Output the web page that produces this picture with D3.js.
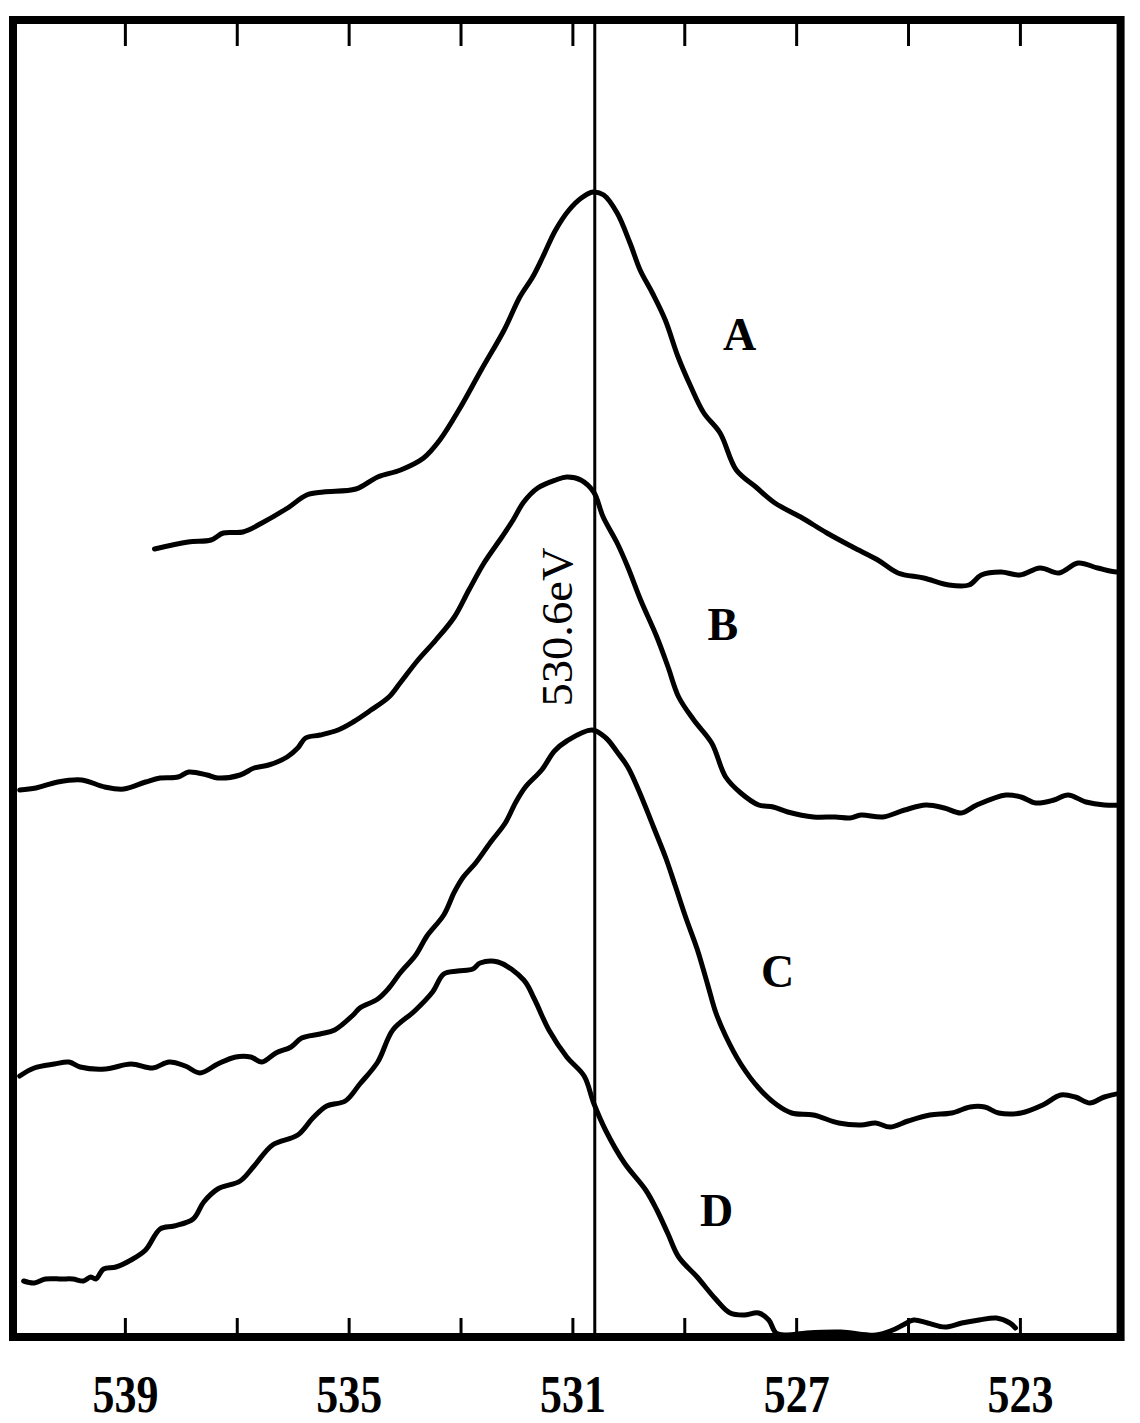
<!DOCTYPE html>
<html>
<head>
<meta charset="utf-8">
<script src="https://cdn.jsdelivr.net/npm/d3@7"></script>
<style>
  body { margin: 0; background: #fff; }
  svg { display: block; }
</style>
</head>
<body>
<div id="chart"></div>
<script>
var w = 1140;
var h = 1423;

// binding energy (eV) and intensity (a.u.)
var energyA = [538.47, 537.87, 537.46, 537.24, 536.89, 536.55, 536.09, 535.75, 535.45, 534.87, 534.48, 534.07, 533.66, 533.37, 533.03, 532.63, 532.22, 531.94, 531.71, 531.53, 531.30, 531.06, 530.84, 530.63, 530.44, 530.20, 529.97, 529.79, 529.57, 529.34, 529.11, 528.88, 528.65, 528.36, 528.07, 527.72, 527.38, 526.92, 526.45, 525.99, 525.54, 525.18, 524.72, 524.27, 523.91, 523.69, 523.34, 523.00, 522.64, 522.30, 521.96, 521.61, 521.27, 521.0];
var countsA = [788, 795, 797, 804, 805, 814, 829, 842, 845, 848, 860, 867, 879, 897, 927, 967, 1007, 1040, 1060, 1080, 1107, 1127, 1139, 1145, 1142, 1124, 1094, 1067, 1044, 1017, 980, 950, 924, 904, 867, 850, 834, 820, 804, 790, 777, 764, 759, 752, 752, 762, 765, 762, 769, 764, 774, 769, 765, 768];

var energyB = [540.88, 540.59, 540.20, 539.77, 539.36, 539.02, 538.63, 538.37, 538.05, 537.86, 537.53, 537.34, 536.94, 536.69, 536.43, 536.10, 535.91, 535.77, 535.51, 535.19, 534.92, 534.60, 534.28, 534.08, 533.76, 533.44, 533.11, 532.85, 532.58, 532.26, 532.06, 531.87, 531.62, 531.30, 531.10, 530.85, 530.62, 530.45, 530.20, 530.01, 529.78, 529.49, 529.29, 529.10, 528.83, 528.51, 528.26, 527.99, 527.67, 527.41, 527.15, 526.69, 526.30, 526.04, 525.84, 525.45, 525.06, 524.68, 524.35, 524.05, 523.77, 523.25, 522.98, 522.72, 522.39, 522.14, 521.82, 521.49, 521.07];
var countsB = [547, 549, 555, 557, 550, 548, 555, 559, 560, 565, 562, 559, 562, 569, 572, 580, 589, 599, 602, 607, 615, 627, 640, 654, 677, 697, 720, 747, 774, 800, 817, 835, 849, 857, 860, 857, 845, 820, 794, 770, 737, 700, 670, 640, 617, 594, 560, 544, 532, 530, 525, 520, 520, 519, 522, 520, 527, 532, 529, 524, 532, 542, 540, 534, 537, 542, 535, 532, 532];

var energyC = [540.88, 540.62, 540.26, 540.00, 539.80, 539.35, 538.89, 538.50, 538.21, 537.92, 537.66, 537.34, 537.02, 536.75, 536.55, 536.30, 536.03, 535.84, 535.51, 535.25, 534.92, 534.80, 534.48, 534.28, 534.08, 533.80, 533.60, 533.30, 533.11, 532.95, 532.73, 532.46, 532.20, 532.01, 531.84, 531.55, 531.32, 531.10, 530.65, 530.40, 530.20, 530.01, 529.81, 529.55, 529.33, 529.16, 528.97, 528.77, 528.58, 528.44, 528.26, 527.99, 527.67, 527.34, 527.08, 526.69, 526.24, 525.84, 525.58, 525.32, 525.00, 524.61, 524.22, 523.89, 523.63, 523.38, 522.98, 522.59, 522.27, 522.01, 521.75, 521.49, 521.00];
var countsC = [261, 269, 273, 275, 270, 268, 273, 269, 275, 271, 264, 273, 280, 280, 275, 284, 290, 299, 303, 307, 322, 329, 338, 349, 364, 382, 401, 422, 445, 460, 474, 495, 514, 535, 550, 567, 586, 596, 607, 599, 585, 570, 546, 510, 479, 451, 419, 388, 352, 325, 301, 273, 249, 232, 224, 222, 214, 212, 214, 210, 216, 222, 224, 230, 230, 224, 224, 232, 242, 240, 234, 240, 246];

var energyD = [540.81, 540.62, 540.42, 540.13, 539.93, 539.74, 539.61, 539.52, 539.38, 539.16, 538.89, 538.63, 538.37, 538.12, 537.78, 537.59, 537.34, 536.94, 536.69, 536.36, 535.91, 535.64, 535.39, 535.06, 534.80, 534.48, 534.21, 533.82, 533.50, 533.30, 533.05, 532.78, 532.65, 532.33, 531.87, 531.68, 531.42, 531.10, 530.79, 530.62, 530.40, 530.07, 529.69, 529.49, 529.29, 529.10, 528.77, 528.44, 528.18, 527.93, 527.67, 527.49, 527.36, 527.18, 526.81, 526.20, 525.57, 525.27, 525.09, 524.90, 524.65, 524.34, 524.04, 523.73, 523.42, 523.18, 523.08];
var countsD = [56, 54, 58, 58, 58, 56, 60, 58, 68, 70, 77, 87, 108, 111, 118, 135, 148, 156, 171, 192, 202, 219, 231, 236, 253, 275, 307, 326, 345, 363, 366, 368, 374, 375, 357, 338, 307, 280, 261, 234, 206, 174, 147, 127, 103, 80, 60, 38, 24, 22, 24, 17, 4, 2, 4, 5, 2, 7, 12, 17, 14, 10, 14, 17, 19, 14, 9];

var seriesNames = ['A', 'B', 'C', 'D'];
var labelEnergy = [528.01, 528.31, 527.33, 528.42];
var labelCounts = [987, 697, 350, 111];

var tickValues = [539, 537, 535, 533, 531, 529, 527, 525, 523];
var tickLabels = ['539', '', '535', '', '531', '', '527', '', '523'];
var markerEnergy = 530.6;
var markerText = '530.6eV';

var series = [
    {name: 'A', e: energyA, c: countsA},
    {name: 'B', e: energyB, c: countsB},
    {name: 'C', e: energyC, c: countsC},
    {name: 'D', e: energyD, c: countsD}
];

var x = d3.scaleLinear().domain([541, 521.2]).range([13, 1120.6]);
var y = d3.scaleLinear().domain([0, 1317]).range([1337, 20]);

var svg = d3.select('#chart')
    .append('svg')
    .attr('width', w)
    .attr('height', h)
    .style('background', '#fff');

svg.append('clipPath')
    .attr('id', 'plot-clip')
    .append('rect')
    .attr('x', x(541))
    .attr('y', y(1317))
    .attr('width', x(521.2) - x(541))
    .attr('height', y(0) - y(1317));

var line = d3.line()
    .x(function(d) { return x(d[0]); })
    .y(function(d) { return y(d[1]); })
    .curve(d3.curveCatmullRom);

svg.append('g')
    .attr('clip-path', 'url(#plot-clip)')
    .selectAll('path')
    .data(series)
    .enter()
    .append('path')
    .attr('d', function(s) {
        return line(s.e.map(function(v, i) { return [v, s.c[i]]; }));
    })
    .attr('fill', 'none')
    .attr('stroke', '#000')
    .attr('stroke-width', 5)
    .attr('stroke-linejoin', 'round')
    .attr('stroke-linecap', 'round');

// reference line at the peak energy
svg.append('line')
    .attr('x1', x(markerEnergy))
    .attr('x2', x(markerEnergy))
    .attr('y1', y(1317))
    .attr('y2', y(0))
    .attr('stroke', '#000')
    .attr('stroke-width', 3);

svg.append('text')
    .attr('transform', 'translate(' + (x(markerEnergy) - 23) + ',' + 627 + ') rotate(-90)')
    .attr('text-anchor', 'middle')
    .attr('font-family', 'Liberation Serif, DejaVu Serif, serif')
    .attr('font-size', 44)
    .attr('textLength', 159)
    .attr('lengthAdjust', 'spacingAndGlyphs')
    .text(markerText);

svg.selectAll('text.curve-label')
    .data(seriesNames)
    .enter()
    .append('text')
    .attr('class', 'curve-label')
    .attr('x', function(d, i) { return x(labelEnergy[i]); })
    .attr('y', function(d, i) { return y(labelCounts[i]); })
    .attr('text-anchor', 'middle')
    .attr('font-family', 'Liberation Serif, DejaVu Serif, serif')
    .attr('font-weight', 'bold')
    .attr('font-size', 46)
    .text(function(d) { return d; });

// axes with inward ticks
var bottomAxis = d3.axisBottom(x)
    .tickValues(tickValues)
    .tickFormat(function(d, i) { return tickLabels[i]; })
    .tickSize(-19)
    .tickPadding(38);

var gb = svg.append('g')
    .attr('transform', 'translate(0,' + y(0) + ')')
    .call(bottomAxis);
gb.select('.domain').remove();
gb.selectAll('line').attr('stroke', '#000').attr('stroke-width', 3);
gb.selectAll('text')
    .attr('font-family', 'Liberation Serif, DejaVu Serif, serif')
    .attr('font-weight', 'bold')
    .attr('font-size', 52)
    .attr('fill', '#000')
    .attr('textLength', function(d, i) { return tickLabels[i] ? 66 : null; })
    .attr('lengthAdjust', 'spacingAndGlyphs');

var topAxis = d3.axisTop(x)
    .tickValues(tickValues)
    .tickFormat('')
    .tickSize(-26);

var gt = svg.append('g')
    .attr('transform', 'translate(0,' + y(1317) + ')')
    .call(topAxis);
gt.select('.domain').remove();
gt.selectAll('line').attr('stroke', '#000').attr('stroke-width', 3);

// frame
svg.append('rect')
    .attr('x', x(541))
    .attr('y', y(1317))
    .attr('width', x(521.2) - x(541))
    .attr('height', y(0) - y(1317))
    .attr('fill', 'none')
    .attr('stroke', '#000')
    .attr('stroke-width', 8);
</script>
</body>
</html>
